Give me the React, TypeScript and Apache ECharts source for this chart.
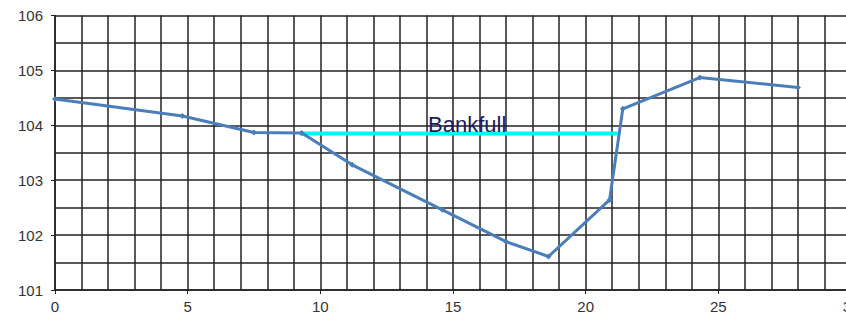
import React, { useEffect, useRef } from "react";
import * as echarts from "echarts";

const stations = [0, 4.8, 7.5, 9.3, 11.2, 14.6, 17.0, 18.6, 20.9, 21.4, 24.3, 28.0];
const elevations = [104.48, 104.17, 103.87, 103.86, 103.28, 102.46, 101.88, 101.61, 102.64, 104.3, 104.87, 104.69];
const bankfullStations = [9.23, 21.2];
const bankfullElevation = 103.85;
const bankfullLabel = "Bankfull";

export default function App() {
  const ref = useRef<HTMLDivElement>(null);
  useEffect(() => {
    if (!ref.current) return;
    const chart = echarts.init(ref.current, undefined, { renderer: "svg" });
    const gridStyle = { color: "#222", width: 1.5 };
    chart.setOption({
      animation: false,
      backgroundColor: "#fff",
      grid: { left: 55, top: 15.5, width: 796, height: 274.5, containLabel: false, outerBoundsMode: "none" },
      xAxis: {
        type: "value",
        min: 0,
        max: 30,
        interval: 5,
        axisLine: { show: true, lineStyle: { color: "#222", width: 1.5 } },
        axisTick: { show: true, length: 4, lineStyle: { color: "#222" } },
        axisLabel: { color: "#333", fontSize: 15, fontFamily: "Liberation Sans, Arial", margin: 9 },
        splitLine: { show: true, lineStyle: gridStyle },
        minorTick: { show: false, splitNumber: 5 },
        minorSplitLine: { show: true, lineStyle: gridStyle },
      },
      yAxis: {
        type: "value",
        min: 101,
        max: 106,
        interval: 1,
        axisLine: { show: true, lineStyle: { color: "#222", width: 1.5 } },
        axisTick: { show: true, length: 4, lineStyle: { color: "#222" } },
        axisLabel: { color: "#333", fontSize: 15, fontFamily: "Liberation Sans, Arial", margin: 12 },
        splitLine: { show: true, lineStyle: gridStyle },
        minorTick: { show: false, splitNumber: 2 },
        minorSplitLine: { show: true, lineStyle: gridStyle },
      },
      graphic: [
        {
          type: "text",
          x: 428,
          y: 124,
          z: 10,
          style: {
            text: bankfullLabel,
            font: "22px 'Liberation Sans', Arial",
            fill: "#1c1c5c",
            textVerticalAlign: "middle",
          },
        },
      ],
      series: [
        {
          type: "line",
          data: bankfullStations.map((s) => [s, bankfullElevation]),
          showSymbol: false,
          lineStyle: { color: "#00f5f5", width: 4 },
          z: 2,
        },
        {
          type: "line",
          data: stations.map((s, i) => [s, elevations[i]]),
          symbol: "diamond",
          symbolSize: 6,
          itemStyle: { color: "#4a7ebb" },
          lineStyle: { color: "#4a7ebb", width: 3 },
          z: 3,
        },
      ],
    });
    return () => chart.dispose();
  }, []);
  return (
    <div
      ref={ref}
      style={{ position: "fixed", left: 0, top: 0, width: 846, height: 316, overflow: "hidden" }}
    />
  );
}
